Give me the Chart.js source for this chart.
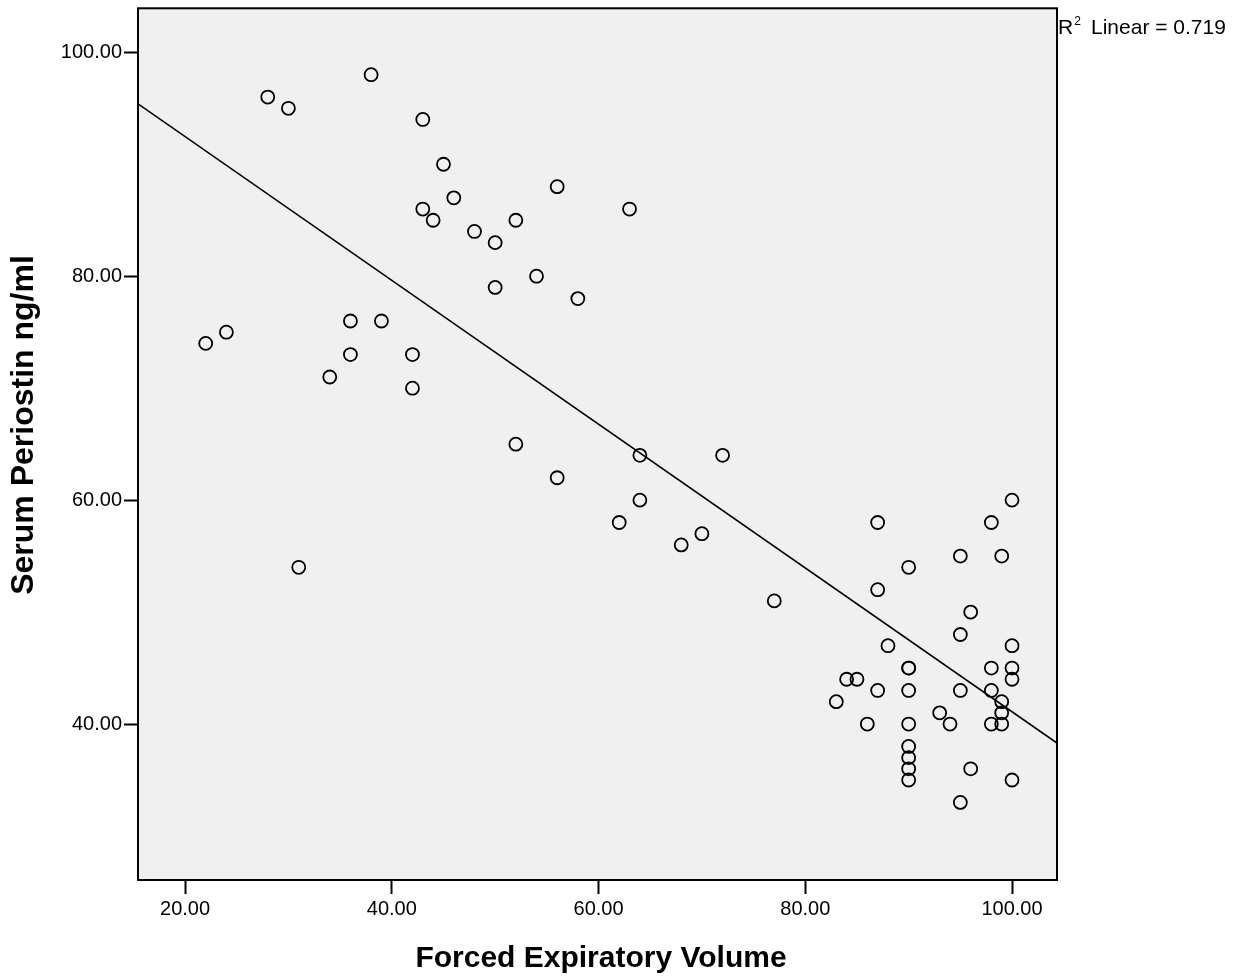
<!DOCTYPE html>
<html>
<head>
<meta charset="utf-8">
<script src="https://cdn.jsdelivr.net/npm/chart.js@4/dist/chart.umd.min.js"></script>
<style>
  html, body { margin: 0; padding: 0; background: #ffffff; }
  #wrap { position: relative; width: 1245px; height: 977px; }
</style>
</head>
<body>
<div id="wrap"><canvas id="c" width="1245" height="977"></canvas></div>
<script>
// Forced Expiratory Volume (x) for each subject
const fev = [22,24,28,30,31,34,36,36,38,39,42,42,43,43,44,45,46,48,50,50,
             52,52,54,56,56,58,62,63,64,64,68,70,72,77,83,84,85,86,87,87,
             87,88,90,90,90,90,90,90,90,90,90,93,94,95,95,95,95,96,96,98,
             98,98,98,99,99,99,99,100,100,100,100,100];
// Serum Periostin ng/ml (y) for each subject
const periostin = [74,75,96,95,54,71,76,73,98,76,73,70,94,86,85,90,87,84,83,79,
                   85,65,80,88,62,78,58,86,64,60,56,57,64,51,42,44,44,40,58,52,
                   43,47,54,45,45,43,40,38,37,36,35,41,40,55,48,43,33,50,36,58,
                   45,43,40,55,42,41,40,60,47,45,44,35];
// Fit line endpoints
const fitX = [15.45, 104.35];
const fitY = [95.4, 38.3];
const xTicks = [20, 40, 60, 80, 100];
const yTicks = [40, 60, 80, 100];
const xTitle = 'Forced Expiratory Volume';
const yTitle = 'Serum Periostin ng/ml';
const r2Label = 'Linear = 0.719';

const FONT = '"Liberation Sans", Arial, sans-serif';

const scatterPts = fev.map((x, i) => ({ x: x, y: periostin[i] }));
const fitPts = fitX.map((x, i) => ({ x: x, y: fitY[i] }));

const framePlugin = {
  id: 'frame',
  beforeDraw(chart) {
    const { ctx, chartArea: a } = chart;
    ctx.save();
    ctx.fillStyle = '#f0f0f0';
    ctx.fillRect(a.left, a.top, a.right - a.left, a.bottom - a.top);
    ctx.restore();
  },
  afterDraw(chart) {
    const { ctx, chartArea: a } = chart;
    ctx.save();
    ctx.strokeStyle = '#000';
    ctx.lineWidth = 2;
    ctx.strokeRect(a.left, a.top, a.right - a.left, a.bottom - a.top);
    // axis titles
    ctx.fillStyle = '#000';
    ctx.font = 'bold 30px ' + FONT;
    ctx.textAlign = 'center';
    ctx.textBaseline = 'alphabetic';
    ctx.fillText(xTitle, 601, 967);
    ctx.save();
    ctx.translate(33, 425);
    ctx.rotate(-Math.PI / 2);
    ctx.font = 'bold 32px ' + FONT;
    ctx.fillText(yTitle, 0, 0);
    ctx.restore();
    // R^2 label
    ctx.textAlign = 'left';
    ctx.font = '21px ' + FONT;
    ctx.fillText('R', 1058, 34);
    const rw = ctx.measureText('R').width;
    ctx.font = '12px ' + FONT;
    ctx.fillText('2', 1058 + rw + 1, 25);
    ctx.font = '21px ' + FONT;
    ctx.fillText(r2Label, 1091, 34);
    ctx.restore();
  }
};

new Chart(document.getElementById('c'), {
  type: 'scatter',
  data: {
    datasets: [
      {
        type: 'line',
        data: fitPts,
        borderColor: '#000',
        borderWidth: 1.6,
        pointRadius: 0,
        fill: false,
        showLine: true,
        order: 2
      },
      {
        data: scatterPts,
        pointStyle: 'circle',
        pointRadius: 6.5,
        pointHoverRadius: 6.5,
        pointBorderWidth: 1.8,
        pointBorderColor: '#000',
        pointBackgroundColor: 'rgba(0,0,0,0)',
        order: 1
      }
    ]
  },
  options: {
    responsive: false,
    animation: false,
    events: [],
    layout: { padding: { left: 0, top: 8, right: 188, bottom: 0 } },
    plugins: { legend: { display: false }, tooltip: { enabled: false } },
    scales: {
      x: {
        type: 'linear',
        min: 15.45,
        max: 104.35,
        afterBuildTicks(axis) { axis.ticks = xTicks.map(v => ({ value: v })); },
        afterFit(axis) { axis.height = 977 - 880; axis.paddingLeft = 0; axis.paddingRight = 0; },
        grid: { drawOnChartArea: false, drawTicks: true, tickLength: 14, tickColor: '#000', tickWidth: 2 },
        border: { display: false },
        ticks: {
          color: '#000',
          font: { family: FONT, size: 20 },
          padding: 3,
          maxRotation: 0,
          callback: v => Number(v).toFixed(2)
        }
      },
      y: {
        type: 'linear',
        min: 26.07,
        max: 103.93,
        afterBuildTicks(axis) { axis.ticks = yTicks.map(v => ({ value: v })); },
        afterFit(axis) { axis.width = 138; axis.paddingTop = 0; axis.paddingBottom = 0; },
        grid: { drawOnChartArea: false, drawTicks: true, tickLength: 14, tickColor: '#000', tickWidth: 2 },
        border: { display: false },
        ticks: {
          color: '#000',
          font: { family: FONT, size: 20 },
          padding: 2,
          callback: v => Number(v).toFixed(2)
        }
      }
    }
  },
  plugins: [framePlugin]
});
</script>
</body>
</html>
